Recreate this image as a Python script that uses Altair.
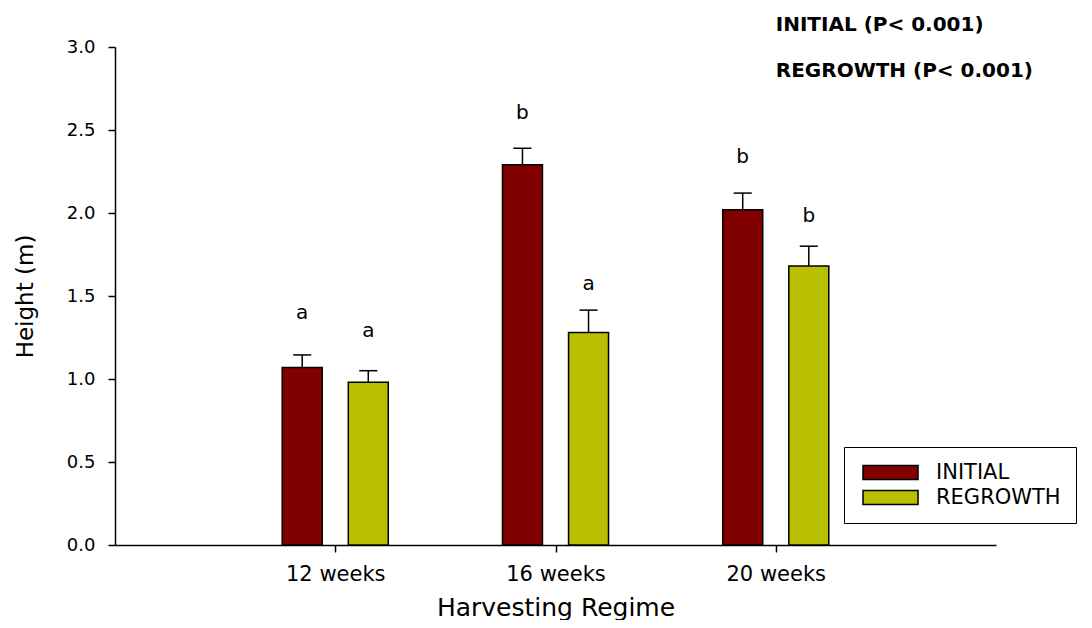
import altair as alt
import pandas as pd

# ---- data ----
regimes = ["12 weeks", "16 weeks", "20 weeks"]
positions = [1, 2, 3]
series = ["INITIAL", "REGROWTH"]
colors = ["#800000", "#B8BE00"]

initial_mean = [1.07, 2.29, 2.02]
initial_se = [0.075, 0.10, 0.10]
regrowth_mean = [0.98, 1.28, 1.68]
regrowth_se = [0.07, 0.135, 0.12]

initial_letters = ["a", "b", "b"]
regrowth_letters = ["a", "a", "b"]
initial_letter_y = [1.40, 2.60, 2.34]
regrowth_letter_y = [1.29, 1.57, 1.98]

notes = ["INITIAL (P< 0.001)", "REGROWTH (P< 0.001)"]
notes_y = [3.13, 2.855]
notes_x = [3, 3]

FONT = "DejaVu Sans"
GROUP_OFFSET = {"INITIAL": -0.15, "REGROWTH": 0.15}
HALF_BAR = 0.0908
HALF_CAP = 0.041

rows = []
for s, means, ses, lets, lys in [
    ("INITIAL", initial_mean, initial_se, initial_letters, initial_letter_y),
    ("REGROWTH", regrowth_mean, regrowth_se, regrowth_letters, regrowth_letter_y),
]:
    for p, m, e, l, ly in zip(positions, means, ses, lets, lys):
        c = p + GROUP_OFFSET[s]
        rows.append({
            "series": s, "center": c, "left": c - HALF_BAR, "right": c + HALF_BAR,
            "mean": m, "top": m + e, "base": 0.0,
            "capl": c - HALF_CAP, "capr": c + HALF_CAP,
            "letter": l, "letter_y": ly,
        })
df = pd.DataFrame(rows)
notes_df = pd.DataFrame({"text": notes, "x": notes_x, "y": notes_y})

xscale = alt.Scale(domain=[0, 4], nice=False, zero=False)
yscale = alt.Scale(domain=[0, 3], nice=False, zero=True)

label_arr = "[" + ",".join(["''"] + [f"'{r}'" for r in regimes]) + "]"
xaxis = alt.Axis(
    values=positions, labelExpr=f"{label_arr}[datum.value]", grid=False,
    domainColor="black", domainWidth=1.5, tickColor="black", tickWidth=1.5, tickSize=7,
    labelFont=FONT, labelFontSize=21, labelColor="black", labelPadding=11,
    title="Harvesting Regime", titleFont=FONT, titleFontSize=25, titleFontWeight="normal",
    titleColor="black", titleX=440.5, titleY=62, titleBaseline="middle",
)
yaxis = alt.Axis(
    values=[0, 0.5, 1.0, 1.5, 2.0, 2.5, 3.0], format=".1f", grid=False,
    domainColor="black", domainWidth=1.5, tickColor="black", tickWidth=1.5, tickSize=7,
    labelFont=FONT, labelFontSize=18, labelColor="black", labelPadding=13,
    title="Height (m)", titleFont=FONT, titleFontSize=23, titleFontWeight="normal",
    titleColor="black", titleX=-90, titleY=249, titleBaseline="middle", titleAngle=-90,
)
legend = alt.Legend(
    orient="none", legendX=729, legendY=400, title=None,
    symbolType="M-3.93,-1H3.93V1H-3.93Z", symbolSize=196,
    symbolStrokeColor="black", symbolStrokeWidth=1.5, symbolOffset=21,
    labelOffset=35, labelFont=FONT, labelFontSize=21, labelColor="black",
    labelExpr="datum.label + '                      '",
    padding=15, rowPadding=3, strokeColor="black", fillColor="white",
)

base = alt.Chart(df)
bars = base.mark_rect(stroke="black", strokeWidth=1.5).encode(
    x=alt.X("left:Q", scale=xscale, axis=xaxis),
    x2="right:Q",
    y=alt.Y("mean:Q", scale=yscale, axis=yaxis),
    y2="base:Q",
    color=alt.Color("series:N", scale=alt.Scale(domain=series, range=colors), legend=legend),
)
err = base.mark_rule(color="black", strokeWidth=1.5).encode(
    x=alt.X("center:Q", scale=xscale, axis=xaxis),
    y=alt.Y("mean:Q", scale=yscale, axis=yaxis),
    y2="top:Q",
)
caps = base.mark_rule(color="black", strokeWidth=1.5).encode(
    x=alt.X("capl:Q", scale=xscale, axis=xaxis),
    x2="capr:Q",
    y=alt.Y("top:Q", scale=yscale, axis=yaxis),
)
letters = base.mark_text(font=FONT, fontSize=20, color="black", baseline="middle").encode(
    x=alt.X("center:Q", scale=xscale, axis=xaxis),
    y=alt.Y("letter_y:Q", scale=yscale, axis=yaxis),
    text="letter:N",
)
note_text = alt.Chart(notes_df).mark_text(
    font=FONT, fontSize=20, fontWeight="bold", color="black", align="left", baseline="middle"
).encode(
    x=alt.X("x:Q", scale=xscale, axis=xaxis),
    y=alt.Y("y:Q", scale=yscale, axis=yaxis),
    text="text:N",
)

chart = alt.layer(bars, err, caps, letters, note_text).properties(
    width=881, height=498,
    padding={"left": 107, "top": 39, "right": 88, "bottom": 75},
    autosize=alt.AutoSizeParams(type="none"),
    background="white",
).configure_view(stroke=None)

chart.save("out.html", embed_options={"renderer": "svg", "actions": False})
